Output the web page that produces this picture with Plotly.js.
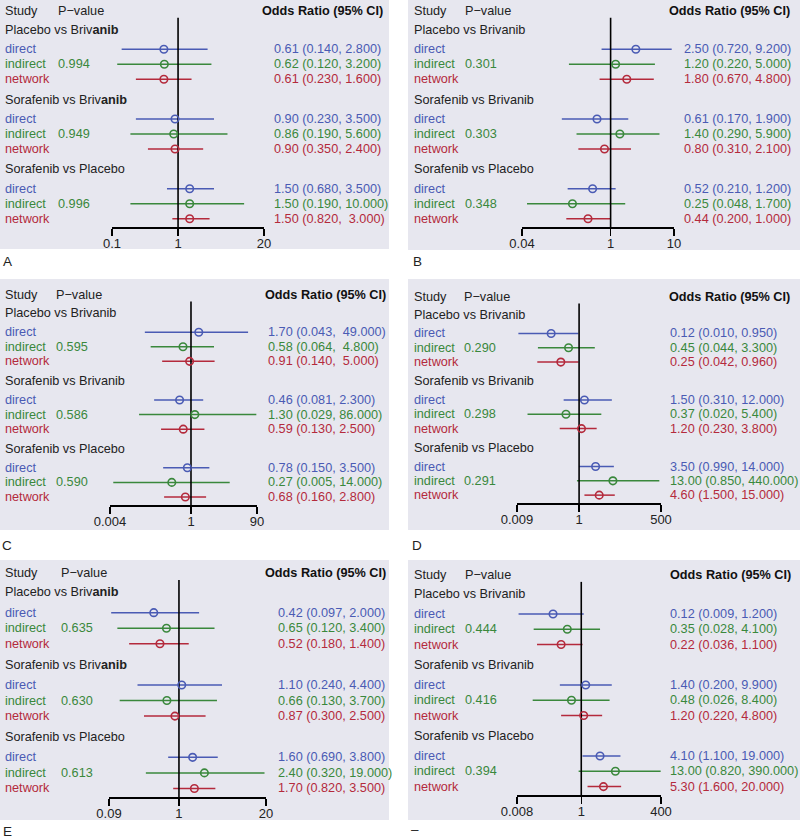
<!DOCTYPE html>
<html>
<head>
<meta charset="utf-8">
<script src="https://cdn.plot.ly/plotly-3.0.1.min.js"></script>
<style>html,body{margin:0;padding:0;background:#fff;}#chart{width:800px;height:838px;}</style>
</head>
<body>
<div id="chart"></div>
<script>
// ---------------- data ----------------
const comparisons = ['Placebo vs Brivanib', 'Sorafenib vs Brivanib', 'Sorafenib vs Placebo'];
const methods = ['direct', 'indirect', 'network'];
const panelLetters = ['A', 'B', 'C', 'D', 'E', '\u2013'];

// order within each panel: [PvB direct, indirect, network, SvB direct, indirect, network, SvP direct, indirect, network]
const orA = [0.61, 0.62, 0.61, 0.90, 0.86, 0.90, 1.50, 1.50, 1.50];
const loA = [0.140, 0.120, 0.230, 0.230, 0.190, 0.350, 0.680, 0.190, 0.820];
const hiA = [2.800, 3.200, 1.600, 3.500, 5.600, 2.400, 3.500, 10.000, 3.000];
const pA = [0.994, 0.949, 0.996];
const ticksA = [0.1, 1, 20];
const padA = [0, 0, 0, 0, 0, 0, 0, 0, 1];

const orB = [2.50, 1.20, 1.80, 0.61, 1.40, 0.80, 0.52, 0.25, 0.44];
const loB = [0.720, 0.220, 0.670, 0.170, 0.290, 0.310, 0.210, 0.048, 0.200];
const hiB = [9.200, 5.000, 4.800, 1.900, 5.900, 2.100, 1.200, 1.700, 1.000];
const pB = [0.301, 0.303, 0.348];
const ticksB = [0.04, 1, 10];
const padB = [0, 0, 0, 0, 0, 0, 0, 0, 0];

const orC = [1.70, 0.58, 0.91, 0.46, 1.30, 0.59, 0.78, 0.27, 0.68];
const loC = [0.043, 0.064, 0.140, 0.081, 0.029, 0.130, 0.150, 0.005, 0.160];
const hiC = [49.000, 4.800, 5.000, 2.300, 86.000, 2.500, 3.500, 14.000, 2.800];
const pC = [0.595, 0.586, 0.590];
const ticksC = [0.004, 1, 90];
const padC = [1, 1, 1, 0, 0, 0, 0, 0, 0];

const orD = [0.12, 0.45, 0.25, 1.50, 0.37, 1.20, 3.50, 13.00, 4.60];
const loD = [0.010, 0.044, 0.042, 0.310, 0.020, 0.230, 0.990, 0.850, 1.500];
const hiD = [0.950, 3.300, 0.960, 12.000, 5.400, 3.800, 14.000, 440.000, 15.000];
const pD = [0.290, 0.298, 0.291];
const ticksD = [0.009, 1, 500];
const padD = [0, 0, 0, 0, 0, 0, 0, 0, 0];

const orE = [0.42, 0.65, 0.52, 1.10, 0.66, 0.87, 1.60, 2.40, 1.70];
const loE = [0.097, 0.120, 0.180, 0.240, 0.130, 0.300, 0.690, 0.320, 0.820];
const hiE = [2.000, 3.400, 1.400, 4.400, 3.700, 2.500, 3.800, 19.000, 3.500];
const pE = [0.635, 0.630, 0.613];
const ticksE = [0.09, 1, 20];
const padE = [0, 0, 0, 0, 0, 0, 0, 0, 0];

const orF = [0.12, 0.35, 0.22, 1.40, 0.48, 1.20, 4.10, 13.00, 5.30];
const loF = [0.009, 0.028, 0.036, 0.200, 0.026, 0.220, 1.100, 0.820, 1.600];
const hiF = [1.200, 4.100, 1.100, 9.900, 8.400, 4.800, 19.000, 390.000, 20.000];
const pF = [0.444, 0.416, 0.394];
const ticksF = [0.008, 1, 400];
const padF = [0, 0, 0, 0, 0, 0, 0, 0, 0];

// ---------------- layout (positions / styles) ----------------
const W = 800, H = 838;
const colors = ['#4a5bb4', '#3a883c', '#b42a3c'];
const bg = '#e7e7ef';
const FONT = '"Liberation Sans", Arial, sans-serif';
const FS = 12.7;
const boldAnib = [true, false, false, false, true, false];

const cfg = [
  {axL:112, axR:264, top:11,  bot:227, lab:4,   pv:57,  ci:273, hdrR:384, bgb:[0,389,0,249],     letter:[7,261]},
  {axL:522, axR:674, top:11,  bot:227, lab:413, pv:464, ci:683, hdrR:791, bgb:[408,800,0,250],   letter:[417,261]},
  {axL:110, axR:257, top:295, bot:505, lab:4,   pv:55,  ci:267, hdrR:387, bgb:[0,389,279,530],   letter:[7,545]},
  {axL:517, axR:661, top:297, bot:503, lab:413, pv:463, ci:669, hdrR:791, bgb:[408,800,279,530], letter:[417,545]},
  {axL:109, axR:266, top:573, bot:797, lab:4,   pv:60,  ci:277, hdrR:387, bgb:[0,389,560,820],   letter:[7,831]},
  {axL:517, axR:661, top:575, bot:795, lab:413, pv:464, ci:669, hdrR:792, bgb:[408,800,560,820], letter:[415,829]}
];

const panels = [
  {or:orA, lo:loA, hi:hiA, p:pA, ticks:ticksA, pad:padA},
  {or:orB, lo:loB, hi:hiB, p:pB, ticks:ticksB, pad:padB},
  {or:orC, lo:loC, hi:hiC, p:pC, ticks:ticksC, pad:padC},
  {or:orD, lo:loD, hi:hiD, p:pD, ticks:ticksD, pad:padD},
  {or:orE, lo:loE, hi:hiE, p:pE, ticks:ticksE, pad:padE},
  {or:orF, lo:loF, hi:hiF, p:pF, ticks:ticksF, pad:padF}
];

// row units: header 0, group label, rows, axis line
const AXIS_Y = 14.4;
const groupY = g => 1.25 + 4.65 * g;
const rowY = (g, m) => groupY(g) + 1.3 + m;

const traces = [];
const annotations = [];
const shapes = [];
const layout = {
  width: W, height: H,
  margin: {l:0, r:0, t:0, b:0},
  paper_bgcolor: '#ffffff',
  plot_bgcolor: 'rgba(0,0,0,0)',
  showlegend: false,
  font: {family: FONT, size: FS, color: '#222'}
};

panels.forEach((P, i) => {
  const c = cfg[i];
  const s = i === 0 ? '' : String(i + 1);
  const xa = 'x' + s, ya = 'y' + s;

  shapes.push({type:'rect', xref:'paper', yref:'paper', layer:'below',
    x0:c.bgb[0]/W, x1:c.bgb[1]/W, y0:1-c.bgb[3]/H, y1:1-c.bgb[2]/H,
    fillcolor:bg, line:{width:0}});

  // CI lines
  methods.forEach((m, mi) => {
    const xs = [], ys = [];
    for (let g = 0; g < 3; g++) {
      const k = g*3 + mi;
      xs.push(P.lo[k], P.hi[k], null);
      ys.push(rowY(g, mi), rowY(g, mi), null);
    }
    traces.push({type:'scatter', mode:'lines', x:xs, y:ys, xaxis:xa, yaxis:ya,
      line:{color:colors[mi], width:1.5}, hoverinfo:'skip', cliponaxis:false});
  });
  // reference line at OR = 1
  traces.push({type:'scatter', mode:'lines', x:[1,1], y:[0.45, AXIS_Y], xaxis:xa, yaxis:ya,
    line:{color:'#000', width:1.6}, hoverinfo:'skip', cliponaxis:false});
  // point estimates
  methods.forEach((m, mi) => {
    const xs = [], ys = [];
    for (let g = 0; g < 3; g++) { xs.push(P.or[g*3+mi]); ys.push(rowY(g, mi)); }
    traces.push({type:'scatter', mode:'markers', x:xs, y:ys, xaxis:xa, yaxis:ya,
      marker:{symbol:'circle-open', size:7.5, color:colors[mi], line:{width:1.6, color:colors[mi]}},
      hoverinfo:'skip', cliponaxis:false});
  });

  layout['xaxis' + s] = {
    type:'log', domain:[c.axL/W, c.axR/W],
    range:[Math.log10(P.ticks[0]), Math.log10(P.ticks[2])],
    anchor:ya, showline:true, linecolor:'#000', linewidth:1.5,
    ticks:'outside', ticklen:7, tickwidth:1.5, tickcolor:'#000',
    ticklabelstandoff:-3,
    tickvals:P.ticks, ticktext:P.ticks.map(v => String(v)),
    tickfont:{family:FONT, size:13, color:'#222'},
    showgrid:false, zeroline:false, fixedrange:true
  };
  layout['yaxis' + s] = {
    domain:[1 - c.bot/H, 1 - c.top/H], range:[AXIS_Y, 0],
    visible:false, anchor:xa, fixedrange:true
  };

  const ann = (x, y, text, color, anchor) => annotations.push({
    xref:'paper', yref:ya, x:x/W, y:y, text:text, showarrow:false,
    xanchor:anchor || 'left', yanchor:'middle', borderpad:0,
    font:{family:FONT, size:FS, color:color}});

  ann(c.lab, 0, 'Study', '#222');
  ann(c.pv, 0, 'P\u2212value', '#222');
  ann(c.hdrR, 0, '<b>Odds Ratio (95% CI)</b>', '#111', 'right');

  for (let g = 0; g < 3; g++) {
    let label = comparisons[g];
    if (boldAnib[i] && label.endsWith('anib')) label = label.slice(0, -4) + '<b>anib</b>';
    ann(c.lab, groupY(g), label, '#222');
    methods.forEach((m, mi) => {
      const k = g*3 + mi;
      ann(c.lab, rowY(g, mi), m, colors[mi]);
      const txt = P.or[k].toFixed(2) + ' (' + P.lo[k].toFixed(3) + ',' +
        (P.pad[k] ? ' \u00a0' : ' ') + P.hi[k].toFixed(3) + ')';
      ann(c.ci, rowY(g, mi), txt, colors[mi]);
    });
    ann(c.pv, rowY(g, 1), P.p[g].toFixed(3), colors[1]);
  }

  annotations.push({xref:'paper', yref:'paper', x:c.letter[0]/W, y:1 - c.letter[1]/H,
    text:panelLetters[i], showarrow:false, xanchor:'center', yanchor:'middle',
    font:{family:FONT, size:13.5, color:'#222'}});
});

layout.shapes = shapes;
layout.annotations = annotations;

Plotly.newPlot('chart', traces, layout, {staticPlot:true, displayModeBar:false});
</script>
</body>
</html>
